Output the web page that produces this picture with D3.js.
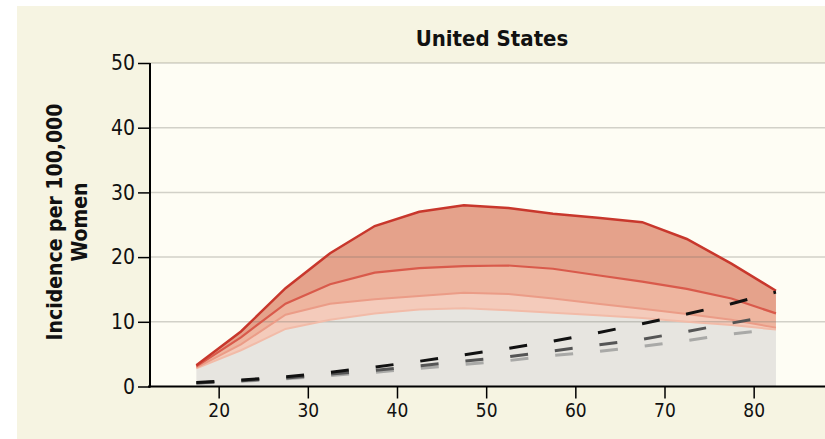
<!DOCTYPE html>
<html>
<head>
<meta charset="utf-8">
<script src="https://cdn.jsdelivr.net/npm/d3@7"></script>
<style>
  body { margin: 0; background: #fff; }
  svg { display: block; }
  text { font-family: "DejaVu Sans Condensed", sans-serif; }
</style>
</head>
<body>
<div id="chart"></div>
<script>
let width = 825;
let height = 439;

// age group midpoints
let ages = [17.5, 22.5, 27.5, 32.5, 37.5, 42.5, 47.5, 52.5, 57.5, 62.5, 67.5, 72.5, 77.5, 82.5];

// red bands, top to bottom
let band1 = [3.3, 8.5, 15.2, 20.6, 24.8, 27.0, 28.0, 27.6, 26.7, 26.1, 25.4, 22.8, 19.0, 14.8];
let band2 = [3.1, 7.6, 12.8, 15.8, 17.6, 18.3, 18.6, 18.7, 18.2, 17.2, 16.2, 15.1, 13.6, 11.3];
let band3 = [2.9, 6.5, 11.1, 12.8, 13.5, 14.0, 14.5, 14.3, 13.6, 12.8, 12.0, 11.2, 10.3, 9.1];
let band4 = [2.8, 5.6, 8.9, 10.3, 11.3, 11.9, 12.1, 11.8, 11.4, 11.0, 10.6, 10.0, 9.5, 8.8];

// dashed lines
let dashBlack = [0.6, 1.0, 1.5, 2.2, 3.0, 3.9, 4.9, 5.9, 7.0, 8.3, 9.7, 11.2, 12.8, 14.6];
let dashDark  = [0.55, 0.9, 1.3, 1.9, 2.5, 3.2, 3.9, 4.6, 5.5, 6.4, 7.3, 8.5, 9.8, 11.0];
let dashLight = [0.5, 0.8, 1.2, 1.7, 2.2, 2.8, 3.4, 4.0, 4.8, 5.4, 6.2, 7.1, 8.1, 8.9];

let xTicks = [20, 30, 40, 50, 60, 70, 80];
let yTicks = [0, 10, 20, 30, 40, 50];

let x = d3.scaleLinear().domain([12.3, 88]).range([150, 825]);
let y = d3.scaleLinear().domain([0, 50]).range([386.5, 63]);

let svg = d3.select('#chart').append('svg')
            .attr('width', width)
            .attr('height', height);

svg.append('rect').attr('x', 17).attr('y', 6)
    .attr('width', width - 17).attr('height', height - 6)
    .attr('fill', '#f6f4e2');

svg.append('rect').attr('x', x(12.3)).attr('y', y(50))
    .attr('width', width - x(12.3)).attr('height', y(0) - y(50))
    .attr('fill', '#fefdf4');

let pts = vals => ages.map((a, i) => [a, vals[i]]);

let area = (hi, lo) => d3.area()
    .x(d => x(d[0]))
    .y0((d, i) => y(lo[i]))
    .y1(d => y(d[1]))(pts(hi));

let line = d3.line().x(d => x(d[0])).y(d => y(d[1]));

let zeros = ages.map(() => 0);

svg.append('path').attr('d', area(band4, zeros)).attr('fill', '#e7e5e0');
svg.append('path').attr('d', area(band3, band4)).attr('fill', '#f4cbbb');
svg.append('path').attr('d', area(band2, band3)).attr('fill', '#eeb59f');
svg.append('path').attr('d', area(band1, band2)).attr('fill', '#e5a28b');

// grid
svg.append('g').selectAll('line')
    .data(yTicks.filter(d => d > 0))
    .join('line')
        .attr('x1', x(12.3)).attr('x2', width)
        .attr('y1', d => y(d)).attr('y2', d => y(d))
        .attr('stroke', 'rgba(110,110,100,0.3)')
        .attr('stroke-width', 1.5);

svg.append('path').attr('d', line(pts(band4))).attr('fill', 'none')
    .attr('stroke', '#f2bba8').attr('stroke-width', 2);
svg.append('path').attr('d', line(pts(band3))).attr('fill', 'none')
    .attr('stroke', '#eb9c87').attr('stroke-width', 2);
svg.append('path').attr('d', line(pts(band2))).attr('fill', 'none')
    .attr('stroke', '#d95a4b').attr('stroke-width', 2.2);
svg.append('path').attr('d', line(pts(band1))).attr('fill', 'none')
    .attr('stroke', '#c8372c').attr('stroke-width', 2.5);

let dashed = [[dashLight, '#a9a9a7'], [dashDark, '#555555'], [dashBlack, '#111111']];
dashed.forEach(([vals, col]) => {
    svg.append('path').attr('d', line(pts(vals))).attr('fill', 'none')
        .attr('stroke', col).attr('stroke-width', 3)
        .attr('stroke-dasharray', '18 27');
});

// axes
let xAxis = svg.append('g')
    .attr('transform', `translate(0,${y(0)})`)
    .call(d3.axisBottom(x).tickValues(xTicks).tickSize(12).tickPadding(5));
let yAxis = svg.append('g')
    .attr('transform', `translate(${x(12.3)},0)`)
    .call(d3.axisLeft(y).tickValues(yTicks).tickSize(12).tickPadding(3));

xAxis.select('.domain').attr('d', `M${x(12.3) - 2},0H${width}`).attr('stroke', '#000').attr('stroke-width', 2);
yAxis.select('.domain').attr('d', `M0,${y(50)}V${y(0) + 1}`).attr('stroke', '#000').attr('stroke-width', 2);
xAxis.selectAll('.tick line').attr('stroke', '#000').attr('stroke-width', 1.5);
yAxis.selectAll('.tick line').attr('stroke', '#000').attr('stroke-width', 1.5);
xAxis.selectAll('.tick text').attr('font-size', 19).attr('fill', '#111')
    .attr('font-family', '"DejaVu Sans Condensed", sans-serif');
yAxis.selectAll('.tick text').attr('font-size', 21).attr('fill', '#111')
    .attr('font-family', '"DejaVu Sans Condensed", sans-serif');

svg.append('text')
    .attr('x', 492).attr('y', 46)
    .attr('text-anchor', 'middle')
    .attr('font-size', 22).attr('font-weight', 'bold').attr('fill', '#111')
    .text('United States');

let ylab = svg.append('text')
    .attr('transform', 'translate(62,222) rotate(-90)')
    .attr('text-anchor', 'middle')
    .attr('font-size', 21).attr('font-weight', 'bold').attr('fill', '#111');
ylab.append('tspan').attr('x', 0).attr('dy', 0).text('Incidence per 100,000');
ylab.append('tspan').attr('x', 0).attr('dy', 25).text('Women');
</script>
</body>
</html>
